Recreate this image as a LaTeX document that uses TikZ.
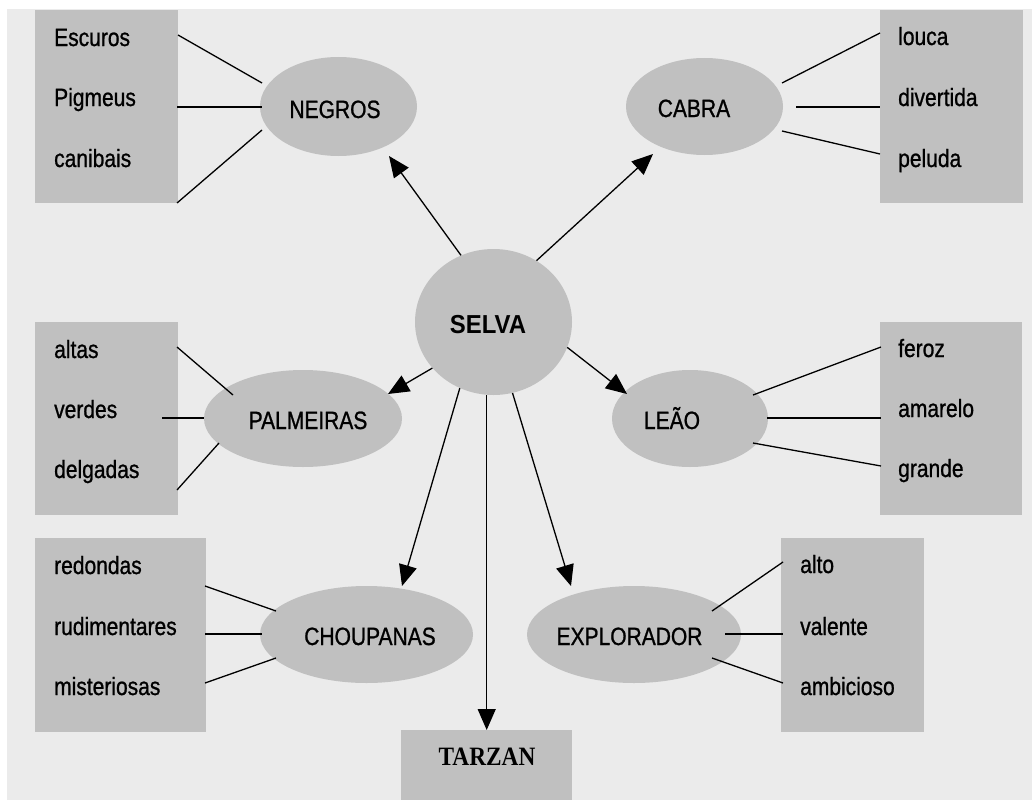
\documentclass[tikz,border=0pt]{standalone}
\usepackage{fontspec}
\setmainfont{Liberation Sans}[FakeStretch=0.84,FakeBold=0.9]
\newfontfamily\selvafont{Liberation Sans}[FakeStretch=0.92]
\newfontfamily\tarzanfont{Liberation Serif}[FakeStretch=0.88]
\usetikzlibrary{shapes.geometric,arrows.meta}
\definecolor{bggray}{HTML}{EBEBEB}
\definecolor{boxgray}{HTML}{C0C0C0}
\tikzset{
  box/.style={fill=boxgray, draw=none, anchor=north west, inner sep=0},
  oval/.style={ellipse, fill=boxgray, draw=none, inner sep=0},
  item/.style={anchor=base west, inner sep=0, font=\fontsize{25}{30}\selectfont},
  lab/.style={anchor=base, inner sep=0, font=\fontsize{25}{30}\selectfont},
  conn/.style={line width=1.3pt, black},
  arr/.style={conn, -{Triangle[length=21pt,width=18pt]}}
}
\begin{document}
\begin{tikzpicture}[x=1pt,y=-1pt]
\useasboundingbox (0,0) rectangle (1032,800);
\fill[white] (0,0) rectangle (1032,800);
\fill[bggray] (7,9) rectangle (1032,800);

% boxes
\node[box, minimum width=143pt, minimum height=193pt] (bNeg) at (35,10) {};
\node[box, minimum width=143pt, minimum height=193pt] (bCab) at (880,10) {};
\node[box, minimum width=143pt, minimum height=193pt] (bPal) at (35,322) {};
\node[box, minimum width=142pt, minimum height=193pt] (bLea) at (880,322) {};
\node[box, minimum width=171pt, minimum height=194pt] (bCho) at (35,538) {};
\node[box, minimum width=143pt, minimum height=194pt] (bExp) at (781,538) {};
\node[box, minimum width=171pt, minimum height=70pt] (tarzan) at (401,730) {};

% ellipses
\node[oval, minimum width=157pt, minimum height=99pt] (negros) at (338.5,106.5) {};
\node[oval, minimum width=157pt, minimum height=97pt] (cabra) at (704.5,106.5) {};
\node[oval, minimum width=157pt, minimum height=146pt] (selva) at (493.5,322) {};
\node[oval, minimum width=198pt, minimum height=97pt] (palm) at (303,418.5) {};
\node[oval, minimum width=156pt, minimum height=97pt] (leao) at (690,418.5) {};
\node[oval, minimum width=213pt, minimum height=97pt] (chou) at (366.5,634.5) {};
\node[oval, minimum width=214pt, minimum height=97pt] (expl) at (634,634.5) {};

% labels
\node[lab] (lNeg) at (335,118) {NEGROS};
\node[lab] (lCab) at (694,117) {CABRA};
\node[lab, font=\selvafont\bfseries\fontsize{26}{30}\selectfont] (lSel) at (488,333) {SELVA};
\node[lab] (lPal) at (308,429) {PALMEIRAS};
\node[lab] (lLea) at (672,429) {LEÃO};
\node[lab] (lCho) at (370,645) {CHOUPANAS};
\node[lab] (lExp) at (629.5,645) {EXPLORADOR};
\node[lab, font=\tarzanfont\bfseries\fontsize{26.5}{30}\selectfont] (lTar) at (487,765) {TARZAN};

% items
\node[item] (i1) at (54,46) {Escuros};
\node[item] (i2) at (54,106) {Pigmeus};
\node[item] (i3) at (54,167) {canibais};
\node[item] (i4) at (898,45) {louca};
\node[item] (i5) at (898,106) {divertida};
\node[item] (i6) at (898,167) {peluda};
\node[item] (i7) at (54,358) {altas};
\node[item] (i8) at (54,418) {verdes};
\node[item] (i9) at (54,478) {delgadas};
\node[item] (i10) at (898,357) {feroz};
\node[item] (i11) at (898,417) {amarelo};
\node[item] (i12) at (898,477) {grande};
\node[item] (i13) at (54,574) {redondas};
\node[item] (i14) at (54,635) {rudimentares};
\node[item] (i15) at (54,695) {misteriosas};
\node[item] (i16) at (800,573) {alto};
\node[item] (i17) at (800,635) {valente};
\node[item] (i18) at (800,695) {ambicioso};

% connector end coordinates
\coordinate (n1a) at (178,35);  \coordinate (n1b) at (262,83);
\coordinate (n2a) at (177,107); \coordinate (n2b) at (262,107);
\coordinate (n3a) at (177,203); \coordinate (n3b) at (262,130);
\coordinate (c1a) at (782,83);  \coordinate (c1b) at (880,33);
\coordinate (c2a) at (796,107); \coordinate (c2b) at (880,107);
\coordinate (c3a) at (782,131); \coordinate (c3b) at (880,154);
\coordinate (p1a) at (177,347); \coordinate (p1b) at (233,395);
\coordinate (p2a) at (162,418); \coordinate (p2b) at (204,418);
\coordinate (p3a) at (177,490); \coordinate (p3b) at (219,443);
\coordinate (l1a) at (753,395); \coordinate (l1b) at (881,347);
\coordinate (l2a) at (767,418); \coordinate (l2b) at (881,418);
\coordinate (l3a) at (753,443); \coordinate (l3b) at (881,466);
\coordinate (h1a) at (205,586); \coordinate (h1b) at (276,611);
\coordinate (h2a) at (205,634); \coordinate (h2b) at (262,634);
\coordinate (h3a) at (205,683); \coordinate (h3b) at (276,658);
\coordinate (e1a) at (712,611); \coordinate (e1b) at (783,562);
\coordinate (e2a) at (725,634); \coordinate (e2b) at (783,634);
\coordinate (e3a) at (712,658); \coordinate (e3b) at (783,683);

\foreach \p in {n1,n2,n3,c1,c2,c3,p1,p2,p3,l1,l2,l3,h1,h2,h3,e1,e2,e3}
  \draw[conn] (\p a) -- (\p b);

% arrow tips
\coordinate (tNeg) at (389,156);
\coordinate (tCab) at (653,154);
\coordinate (tPal) at (388,394);
\coordinate (tLea) at (627,394);
\coordinate (tCho) at (402,586);
\coordinate (tExp) at (571,586);

\draw[arr] (selva.116.6) -- (tNeg);
\draw[arr] (selva.55.7) -- (tCab);
\draw[arr] (selva.217.7) -- (tPal);
\draw[arr] (selva.341.9) -- (tLea);
\draw[arr] (selva.243.7) -- (tCho);
\draw[arr] (selva.285.9) -- (tExp);
\draw[arr] (tarzan.north |- selva.south) -- (tarzan.north);
\end{tikzpicture}
\end{document}
